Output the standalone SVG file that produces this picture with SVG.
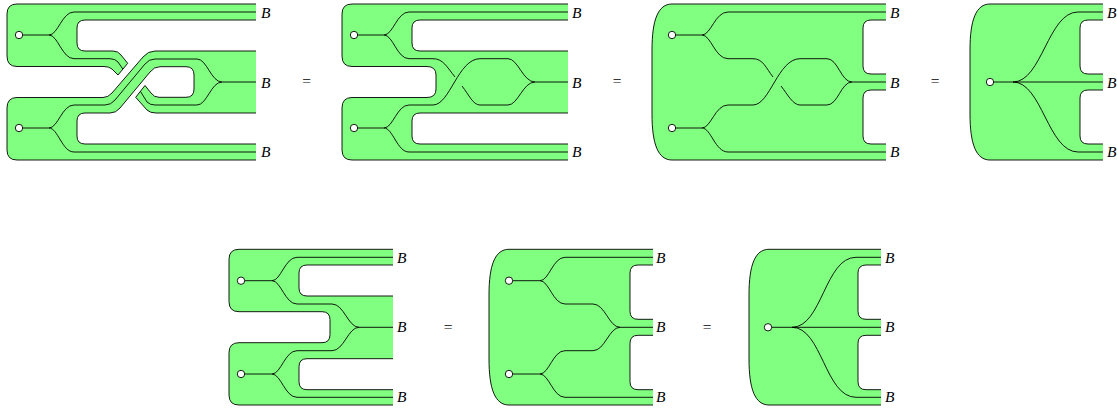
<svg xmlns="http://www.w3.org/2000/svg" width="1117" height="408" viewBox="0 0 1117 408">
<style>
.f{fill:#80ff80;stroke:none;fill-rule:evenodd}
.s{fill:none;stroke:#000;stroke-width:.9}
.w{fill:none;stroke:#000;stroke-width:.9}
.n{fill:#fff;stroke:#000;stroke-width:.9}
.b{font-family:"Liberation Serif",serif;font-style:italic;font-size:15.5px;fill:#000}
.e{font-family:"Liberation Serif",serif;font-size:15.5px;fill:#000;text-anchor:middle}
</style>
<rect width="1117" height="408" fill="#fff"/>

<g id="diagram1">
<path class="f" d="M256 4H17Q7 4 7 14V56Q7 66.5 17 66.5H104Q109 66.5 112 69L118 75L127.7 63.3L121 55Q118 51 113 51H85Q77 51 77 43V28Q77 20 85 20H256Z"/>
<path class="s" d="M256 4H17Q7 4 7 14V56Q7 66.5 17 66.5H104Q109 66.5 112 69L118 75L127.7 63.3L121 55Q118 51 113 51H85Q77 51 77 43V28Q77 20 85 20H256"/>
<path class="f" d="M256 51H155Q148 51 143 57L112 93Q108 97.5 103 97.5H17Q7 97.5 7 108V150Q7 160 17 160H256V144H85Q77 144 77 136V121Q77 113 85 113H110Q116 113 120 108L150 72Q154 66.7 160 66.7H186Q194 66.7 194 75V89Q194 97.3 186 97.3H159Q154 97.3 151 93L145 85.5L135.7 97.3L147 110Q150 113 156 113H256Z"/>
<path class="s" d="M256 51H155Q148 51 143 57L112 93Q108 97.5 103 97.5H17Q7 97.5 7 108V150Q7 160 17 160H256M256 144H85Q77 144 77 136V121Q77 113 85 113H110Q116 113 120 108L150 72Q154 66.7 160 66.7H186Q194 66.7 194 75V89Q194 97.3 186 97.3H159Q154 97.3 151 93L145 85.5L135.7 97.3L147 110Q150 113 156 113H256"/>
<g class="connectors">
<path class="w" d="M19 35H49C58 35 62 12 74 12H256M49 35C58 35 62 58.7 74 58.7H110Q115 58.7 118 62L122.8 69"/>
<path class="w" d="M19 128H49C58 128 62 105 74 105H105Q111 105 115 100L145 64Q149 59 155 59H197C207 59 211 82 222 82H256M222 82C211 82 207 105 197 105H155Q150 105 147 102L140.5 91.5M49 128C58 128 62 152 74 152H256"/>
</g>
<g id="d1-n1"><circle class="n" cx="19" cy="35" r="3.7"/></g>
<g id="d1-n2"><circle class="n" cx="19" cy="128" r="3.7"/></g>
<text class="b" x="261" y="17.5">B</text><text class="b" x="261" y="87.5">B</text><text class="b" x="261" y="157">B</text>
</g>
<text class="e" x="306.500" y="86">=</text>

<g id="diagram2">
<path class="f" d="M568 4H352Q342 4 342 14V56Q342 66.500 352 66.500H427Q436 66.500 436 75V89Q436 97.500 427 97.500H352Q342 97.500 342 108V150Q342 160 352 160H568V144H420Q412 144 412 136V121Q412 113 420 113H568V51H420Q412 51 412 43V28Q412 20 420 20H568Z"/>
<path class="s" d="M568 4H352Q342 4 342 14V56Q342 66.500 352 66.500H427Q436 66.500 436 75V89Q436 97.500 427 97.500H352Q342 97.500 342 108V150Q342 160 352 160H568M568 144H420Q412 144 412 136V121Q412 113 420 113H568M568 51H420Q412 51 412 43V28Q412 20 420 20H568"/>
<g class="connectors">
<path class="w" d="M354 35H384C393 35 397 12 409 12H568M384 35C393 35 397 58.700 409 58.700H433C443 58.700 447 67 455 77"/>
<path class="w" d="M354 128H384C393 128 397 105 409 105H433C450 105 458 58.700 480 58.700H508C518 58.700 523 82 535 82H568M535 82C523 82 518 105 508 105H480C473 105 469 95 462 86M384 128C393 128 397 152 409 152H568"/>
</g>
<g id="d2-n1"><circle class="n" cx="354" cy="35" r="3.7"/></g>
<g id="d2-n2"><circle class="n" cx="354" cy="128" r="3.7"/></g>
<text class="b" x="572" y="17.500">B</text><text class="b" x="572" y="87.500">B</text><text class="b" x="572" y="157">B</text>
</g>
<text class="e" x="617" y="86">=</text>

<g id="diagram3">
<path class="f" d="M886 4H672C658 4 652 20 652 50V114C652 144 658 160 672 160H886V144H871Q863 144 863 136V98Q863 90 871 90H886V74H871Q863 74 863 66V28Q863 20 871 20H886Z"/>
<path class="s" d="M886 4H672C658 4 652 20 652 50V114C652 144 658 160 672 160H886M886 144H871Q863 144 863 136V98Q863 90 871 90H886M886 74H871Q863 74 863 66V28Q863 20 871 20H886"/>
<g class="connectors">
<path class="w" d="M672 35H702C711 35 715 12 728 12H886M702 35C711 35 715 58.700 728 58.700H753C763 58.700 766 68 773 77"/>
<path class="w" d="M672 128H702C711 128 715 105 728 105H753C770 105 778 58.700 800 58.700H827C838 58.700 841 82 852 82H886M852 82C841 82 838 105 827 105H800C793 105 788 95 781 86M702 128C711 128 715 152 728 152H886"/>
</g>
<g id="d3-n1"><circle class="n" cx="672" cy="35" r="3.7"/></g>
<g id="d3-n2"><circle class="n" cx="672" cy="128" r="3.7"/></g>
<text class="b" x="890" y="17.500">B</text><text class="b" x="890" y="87.500">B</text><text class="b" x="890" y="157">B</text>
</g>
<text class="e" x="935" y="86">=</text>

<g id="diagram4">
<path class="f" d="M1103 4H990C976 4 970 20 970 50V114C970 144 976 160 990 160H1103V144H1088Q1080 144 1080 136V98Q1080 90 1088 90H1103V74H1088Q1080 74 1080 66V28Q1080 20 1088 20H1103Z"/>
<path class="s" d="M1103 4H990C976 4 970 20 970 50V114C970 144 976 160 990 160H1103M1103 144H1088Q1080 144 1080 136V98Q1080 90 1088 90H1103M1103 74H1088Q1080 74 1080 66V28Q1080 20 1088 20H1103"/>
<g class="connectors">
<path class="w" d="M990 82H1103M1013 82C1042 82 1048 12 1078 12H1103M1013 82C1042 82 1048 152 1078 152H1103"/>
</g>
<g id="d4-n1"><circle class="n" cx="990" cy="82" r="3.7"/></g>
<text class="b" x="1107" y="17.500">B</text><text class="b" x="1107" y="87.500">B</text><text class="b" x="1107" y="157">B</text>
</g>

<g id="diagram5">
<path class="f" d="M393 249.300H239Q229 249.300 229 259.300V301.700Q229 311.700 239 311.700H322Q330 311.700 330 319.700V334.700Q330 342.700 322 342.700H239Q229 342.700 229 352.700V395Q229 405 239 405H393V389.700H307Q299 389.700 299 381.700V366.700Q299 358.700 307 358.700H393V296H307Q299 296 299 288V273Q299 265 307 265H393Z"/>
<path class="s" d="M393 249.300H239Q229 249.300 229 259.300V301.700Q229 311.700 239 311.700H322Q330 311.700 330 319.700V334.700Q330 342.700 322 342.700H239Q229 342.700 229 352.700V395Q229 405 239 405H393M393 389.700H307Q299 389.700 299 381.700V366.700Q299 358.700 307 358.700H393M393 296H307Q299 296 299 288V273Q299 265 307 265H393"/>
<g class="connectors">
<path class="w" d="M241 280.700H272C281 280.700 285 257.300 297 257.300H393M272 280.700C281 280.700 285 304 297 304H332C344 304 348 327.300 359 327.300H393"/>
<path class="w" d="M241 374H272C281 374 285 350.700 297 350.700H332C344 350.700 348 327.300 359 327.300M272 374C281 374 285 397.300 297 397.300H393"/>
</g>
<g id="d5-n1"><circle class="n" cx="241" cy="280.700" r="3.7"/></g>
<g id="d5-n2"><circle class="n" cx="241" cy="374" r="3.7"/></g>
<text class="b" x="397" y="262.700">B</text><text class="b" x="397" y="332">B</text><text class="b" x="397" y="401.500">B</text>
</g>
<text class="e" x="448" y="332">=</text>

<g id="diagram6">
<path class="f" d="M653 249.300H509C495 249.300 489 265 489 295V359C489 389 495 405 509 405H653V389.700H638Q630 389.700 630 381.700V343.300Q630 335.300 638 335.300H653V319.300H638Q630 319.300 630 311.300V273Q630 265 638 265H653Z"/>
<path class="s" d="M653 249.300H509C495 249.300 489 265 489 295V359C489 389 495 405 509 405H653M653 389.700H638Q630 389.700 630 381.700V343.300Q630 335.300 638 335.300H653M653 319.300H638Q630 319.300 630 311.300V273Q630 265 638 265H653"/>
<g class="connectors">
<path class="w" d="M509 280.700H540C549 280.700 553 257.300 565 257.300H653M540 280.700C549 280.700 553 304 565 304H593C605 304 609 327.300 620 327.300H653"/>
<path class="w" d="M509 374H540C549 374 553 350.700 565 350.700H593C605 350.700 609 327.300 620 327.300M540 374C549 374 553 397.300 565 397.300H653"/>
</g>
<g id="d6-n1"><circle class="n" cx="509" cy="280.700" r="3.7"/></g>
<g id="d6-n2"><circle class="n" cx="509" cy="374" r="3.7"/></g>
<text class="b" x="656" y="262.700">B</text><text class="b" x="656" y="332">B</text><text class="b" x="656" y="401.500">B</text>
</g>
<text class="e" x="707" y="332">=</text>

<g id="diagram7">
<path class="f" d="M881 249.300H769C755 249.300 749 265 749 295V359C749 389 755 405 769 405H881V389.700H866Q858 389.700 858 381.700V343.300Q858 335.300 866 335.300H881V319.300H866Q858 319.300 858 311.300V273Q858 265 866 265H881Z"/>
<path class="s" d="M881 249.300H769C755 249.300 749 265 749 295V359C749 389 755 405 769 405H881M881 389.700H866Q858 389.700 858 381.700V343.300Q858 335.300 866 335.300H881M881 319.300H866Q858 319.300 858 311.300V273Q858 265 866 265H881"/>
<g class="connectors">
<path class="w" d="M768 327.300H881M792 327.300C822 327.300 825 257.300 856 257.300H881M792 327.300C822 327.300 825 397.300 856 397.300H881"/>
</g>
<g id="d7-n1"><circle class="n" cx="768" cy="327.300" r="3.7"/></g>
<text class="b" x="885" y="262.700">B</text><text class="b" x="885" y="332">B</text><text class="b" x="885" y="401.500">B</text>
</g>
</svg>
